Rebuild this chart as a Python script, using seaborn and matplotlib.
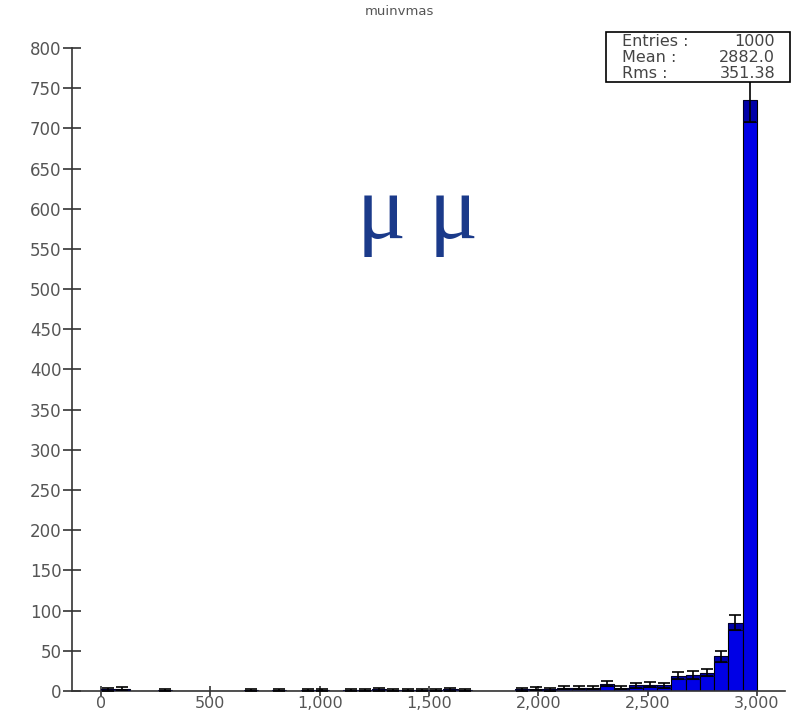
import numpy as np
import pandas as pd
import seaborn as sns
import matplotlib.pyplot as plt
from matplotlib.ticker import FuncFormatter

# histogram "muinvmas": 46 bins between 0 and 3000
n_bins = 46
x_range = (0, 3000)
counts = [2, 3, 0, 0, 1, 0, 0, 0, 0, 0,
          1, 0, 1, 0, 1, 1, 0, 1, 1, 2,
          1, 1, 1, 1, 2, 1, 0, 0, 0, 2,
          3, 2, 4, 4, 4, 9, 4, 7, 8, 7,
          19, 20, 23, 43, 85, 735]
stat_labels = ["Entries :", "Mean :", "Rms :"]
stat_values = ["1000", "2882.0", "351.38"]
title = "muinvmas"
label = "μ μ"

edges = np.linspace(x_range[0], x_range[1], n_bins + 1)
centers = (edges[:-1] + edges[1:]) / 2
width = edges[1] - edges[0]
counts = np.array(counts, dtype=float)
err = np.sqrt(counts)
df = pd.DataFrame({"mass": centers, "n": counts})

sns.set_style("white")
plt.rcParams['font.family'] = ['DejaVu Sans']

fig = plt.figure(figsize=(7.96, 7.16), dpi=100)
ax = fig.add_axes([0.0905, 0.0349, 0.8955, 0.8981])

sns.histplot(data=df, x="mass", weights="n", bins=list(edges), ax=ax,
             color="#0000e6", alpha=1, edgecolor="black", linewidth=0.8)

# darker error band inside the bars and whiskers above
nz = counts > 0
ax.bar(centers[nz], err[nz], bottom=(counts - err)[nz], width=width,
       color="#000060", alpha=0.45, edgecolor="none", zorder=3)
ax.hlines((counts - err)[nz], (centers - width / 2)[nz], (centers + width / 2)[nz],
          color="#000040", linewidth=0.8, zorder=4)
ax.errorbar(centers[nz], counts[nz], yerr=err[nz], fmt="none",
            ecolor="black", elinewidth=1.2, capsize=4, capthick=1.2, zorder=5)

ax.set_xlim(-133, 3128)
ax.set_ylim(0, 800)
ax.set_xticks(np.arange(0, 3001, 500))
ax.set_yticks(np.arange(0, 801, 50))
ax.xaxis.set_major_formatter(FuncFormatter(lambda v, p: f"{int(v):,}"))
ax.set_xlabel("")
ax.set_ylabel("")

for s in ["top", "right"]:
    ax.spines[s].set_visible(False)
for s in ["left", "bottom"]:
    ax.spines[s].set_color("#333333")
    ax.spines[s].set_linewidth(1.2)
ax.tick_params(axis="both", direction="inout", width=1.2,
               bottom=True, left=True, color="#333333", labelcolor="#555555")
ax.tick_params(axis="y", length=13, pad=1, labelsize=12)
ax.tick_params(axis="x", length=7, pad=0, labelsize=11.5)

fig.text(0.502, 0.993, title, ha="center", va="top", fontsize=9.5, color="#555555")

ax.text(0.4846, 0.7045, label, transform=ax.transAxes, ha="center", va="baseline",
        fontsize=66, color="#1b3a8a", family=["Liberation Serif", "DejaVu Serif"])

# stats box
box = plt.Rectangle((0.7613, 0.8855), 0.2312, 0.0698, transform=fig.transFigure,
                    facecolor="white", edgecolor="black", linewidth=1.2, zorder=10)
fig.add_artist(box)
for i, (lab, val) in enumerate(zip(stat_labels, stat_values)):
    y = 0.942 - i * 0.0225
    fig.text(0.781, y, lab, ha="left", va="center", fontsize=11.5,
             color="#444444", zorder=11)
    fig.text(0.974, y, val, ha="right", va="center", fontsize=11.5,
             color="#444444", zorder=11)

fig.savefig("out.png", dpi=100)
